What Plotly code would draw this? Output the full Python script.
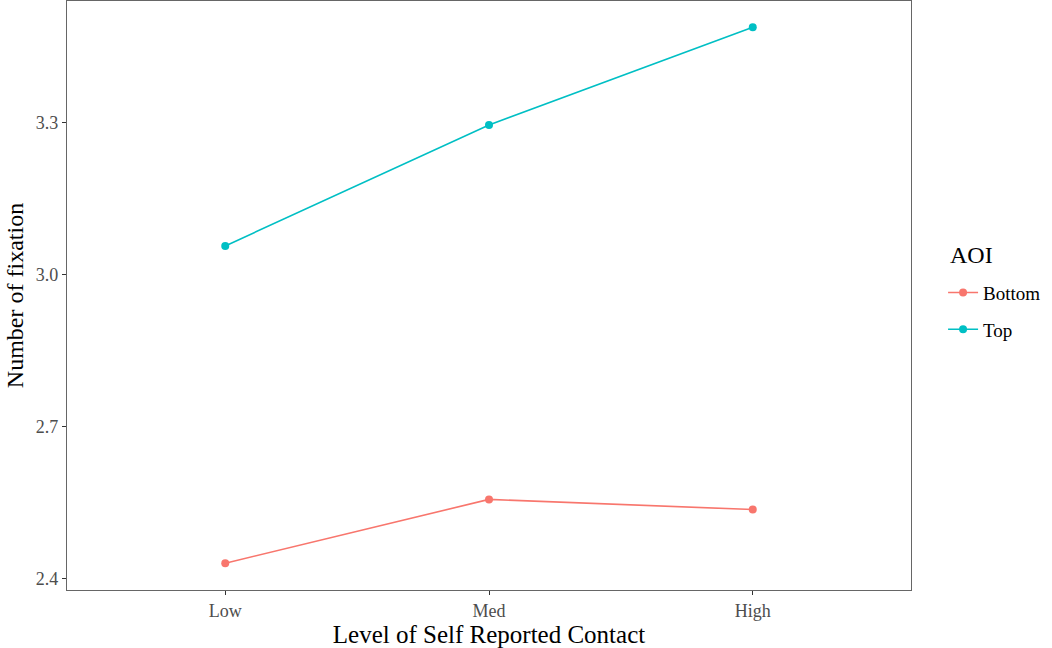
import plotly.graph_objects as go

categories = ["Low", "Med", "High"]
bottom_vals = [2.430, 2.556, 2.536]
top_vals = [3.057, 3.296, 3.489]
series_names = ["Bottom", "Top"]
legend_title = "AOI"
y_ticks = [2.4, 2.7, 3.0, 3.3]
y_tick_labels = ["2.4", "2.7", "3.0", "3.3"]

colors = ["#F8766D", "#00BFC4"]
font_family = "Liberation Serif, Times New Roman, serif"

fig = go.Figure()
for name, vals, col in zip(series_names, [bottom_vals, top_vals], colors):
    fig.add_trace(go.Scatter(
        x=list(range(len(categories))), y=vals, name=name,
        legendgroup=name,
        mode="lines+markers",
        line=dict(color=col, width=1.6),
        marker=dict(color=col, size=8),
    ))

fig.update_layout(
    width=1052, height=648,
    margin=dict(l=67, r=141, t=1, b=58),
    paper_bgcolor="white", plot_bgcolor="white",
    font=dict(family=font_family, color="#000000"),
    showlegend=True,
    legend=dict(
        font=dict(size=19, family=font_family, color="#000"),
        x=1.038, xanchor="left", xref="paper",
        y=0.537, yanchor="top",
        bgcolor="rgba(0,0,0,0)",
        tracegroupgap=9,
    ),
    annotations=[dict(
        text=legend_title, xref="paper", yref="paper",
        x=1.044, y=(590 - 255) / 589, xanchor="left", yanchor="middle",
        showarrow=False, font=dict(size=24, family=font_family, color="#000"),
    )],
)
fig.update_xaxes(
    range=[-0.6, 2.6],
    tickmode="array", tickvals=list(range(len(categories))), ticktext=categories,
    ticks="outside", ticklen=4, tickcolor="#333", tickwidth=1,
    tickfont=dict(size=18, color="#4D4D4D", family=font_family),
    showline=True, linecolor="#666", linewidth=1.2, mirror=True,
    showgrid=False, zeroline=False,
    title=dict(text="Level of Self Reported Contact", font=dict(size=25, family=font_family, color="#000"), standoff=4),
)
fig.update_yaxes(
    range=[2.377, 3.541],
    tickmode="array", tickvals=y_ticks, ticktext=y_tick_labels,
    ticks="outside", ticklen=4, tickcolor="#333", tickwidth=1,
    tickfont=dict(size=18, color="#4D4D4D", family=font_family),
    showline=True, linecolor="#666", linewidth=1.2, mirror=True,
    showgrid=False, zeroline=False,
    title=dict(text="Number of fixation", font=dict(size=24, family=font_family, color="#000"), standoff=5),
)

fig.write_html("out.html", config={"displayModeBar": False},
               post_script="document.body.style.margin='0px';")
